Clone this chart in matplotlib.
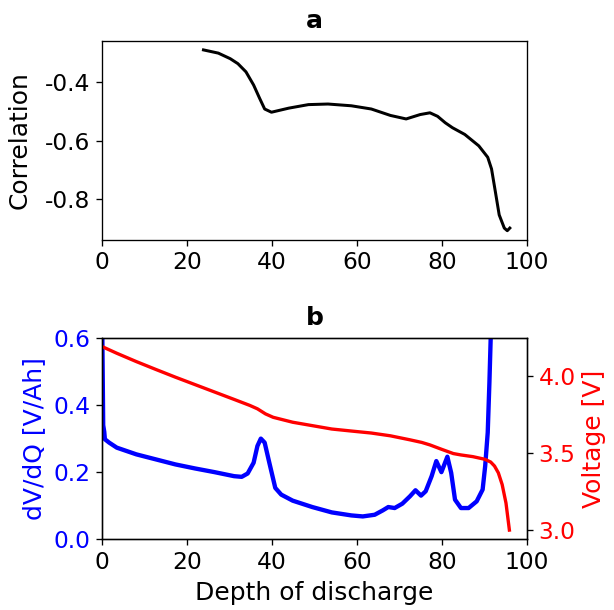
import matplotlib
matplotlib.use("Agg")
import matplotlib.pyplot as plt

plt.rcParams['font.family'] = ['DejaVu Sans']
plt.rcParams['xtick.labelsize'] = 14
plt.rcParams['ytick.labelsize'] = 14
plt.rcParams['axes.labelsize'] = 15
plt.rcParams['axes.titlesize'] = 15

# Panel a: correlation vs depth of discharge
corr_x = [23.9, 27.4, 30.2, 32.0, 33.9, 35.7, 37.1, 38.3, 39.9, 44.0, 48.6, 53.2,
          58.7, 63.4, 67.9, 71.6, 74.9, 77.2, 79.0, 80.8, 82.5, 85.4, 88.7, 90.8,
          91.7, 92.6, 93.5, 94.7, 95.4, 96.0]
corr_y = [-0.289, -0.300, -0.319, -0.336, -0.364, -0.409, -0.454, -0.491, -0.502,
          -0.488, -0.476, -0.474, -0.480, -0.491, -0.513, -0.525, -0.510, -0.504,
          -0.516, -0.538, -0.555, -0.578, -0.617, -0.656, -0.696, -0.774, -0.853,
          -0.898, -0.907, -0.898]

# Panel b: dV/dQ
dvdq_x = [0.0, 0.1, 0.3, 0.55, 0.7, 1.7, 3.5, 8.1, 12.7, 17.3, 21.9, 26.5, 31.1, 32.9,
          34.3, 35.7, 36.6, 37.4, 38.3, 39.4, 40.8, 42.2, 44.9, 49.5, 54.1, 58.7,
          61.4, 64.2, 66.1, 67.4, 68.9, 70.7, 72.5, 73.8, 75.1, 76.2, 77.6, 78.7,
          79.9, 81.3, 82.2, 83.1, 84.5, 86.3, 88.2, 89.6, 90.2, 90.8, 91.2, 91.5, 91.8]
dvdq_y = [1.2, 0.6, 0.34, 0.32, 0.298, 0.288, 0.273, 0.253, 0.238, 0.223, 0.211, 0.200,
          0.188, 0.186, 0.196, 0.228, 0.278, 0.300, 0.288, 0.228, 0.153, 0.133,
          0.115, 0.096, 0.080, 0.071, 0.068, 0.073, 0.086, 0.096, 0.093, 0.106,
          0.128, 0.146, 0.130, 0.143, 0.188, 0.233, 0.200, 0.246, 0.198, 0.118,
          0.093, 0.093, 0.113, 0.148, 0.218, 0.318, 0.468, 0.600, 1.0]

# Panel b: voltage
volt_x = [0.3, 3.5, 8.1, 12.7, 17.3, 21.9, 26.5, 31.1, 34.8, 36.6, 38.5, 40.3, 44.9,
          49.5, 54.1, 58.7, 63.4, 67.9, 72.5, 75.3, 77.2, 79.9, 82.7, 84.5, 87.3,
          90.1, 91.5, 92.4, 93.3, 94.2, 95.1, 95.9]
volt_y = [4.186, 4.146, 4.092, 4.041, 3.991, 3.943, 3.895, 3.847, 3.808, 3.786,
          3.753, 3.731, 3.699, 3.677, 3.655, 3.642, 3.629, 3.611, 3.585, 3.568,
          3.552, 3.524, 3.496, 3.487, 3.476, 3.459, 3.441, 3.415, 3.371, 3.295,
          3.175, 3.000]

DPI = 120
fig = plt.figure(figsize=(614 / DPI, 610 / DPI), dpi=DPI)

ax1 = fig.add_axes([0.166, 0.607, 0.692, 0.326])
ax1.plot(corr_x, corr_y, color='black', lw=1.8)
ax1.set_xlim(0, 100)
ax1.set_yticks([-0.4, -0.6, -0.8])
ax1.set_yticklabels(['-0.4', '-0.6', '-0.8'])
ax1.set_ylabel('Correlation', labelpad=8)
ax1.set_title('a', fontweight='bold', pad=8)

ax2 = fig.add_axes([0.166, 0.116, 0.692, 0.330])
ax2.plot(dvdq_x, dvdq_y, color='blue', lw=2.6)
ax2.set_xlim(0, 100)
ax2.set_ylim(0, 0.6)
ax2.set_yticks([0.0, 0.2, 0.4, 0.6])
ax2.set_ylabel('dV/dQ [V/Ah]', color='blue')
ax2.tick_params(axis='y', labelcolor='blue')
ax2.set_xlabel('Depth of discharge')
ax2.set_title('b', fontweight='bold', pad=8)

ax3 = ax2.twinx()
ax3.plot(volt_x, volt_y, color='red', lw=2)
ax3.set_yticks([3.0, 3.5, 4.0])
ax3.set_ylabel('Voltage [V]', color='red')
ax3.tick_params(axis='y', labelcolor='red')

fig.align_ylabels([ax1, ax2])

fig.savefig('out.png', dpi=DPI)
